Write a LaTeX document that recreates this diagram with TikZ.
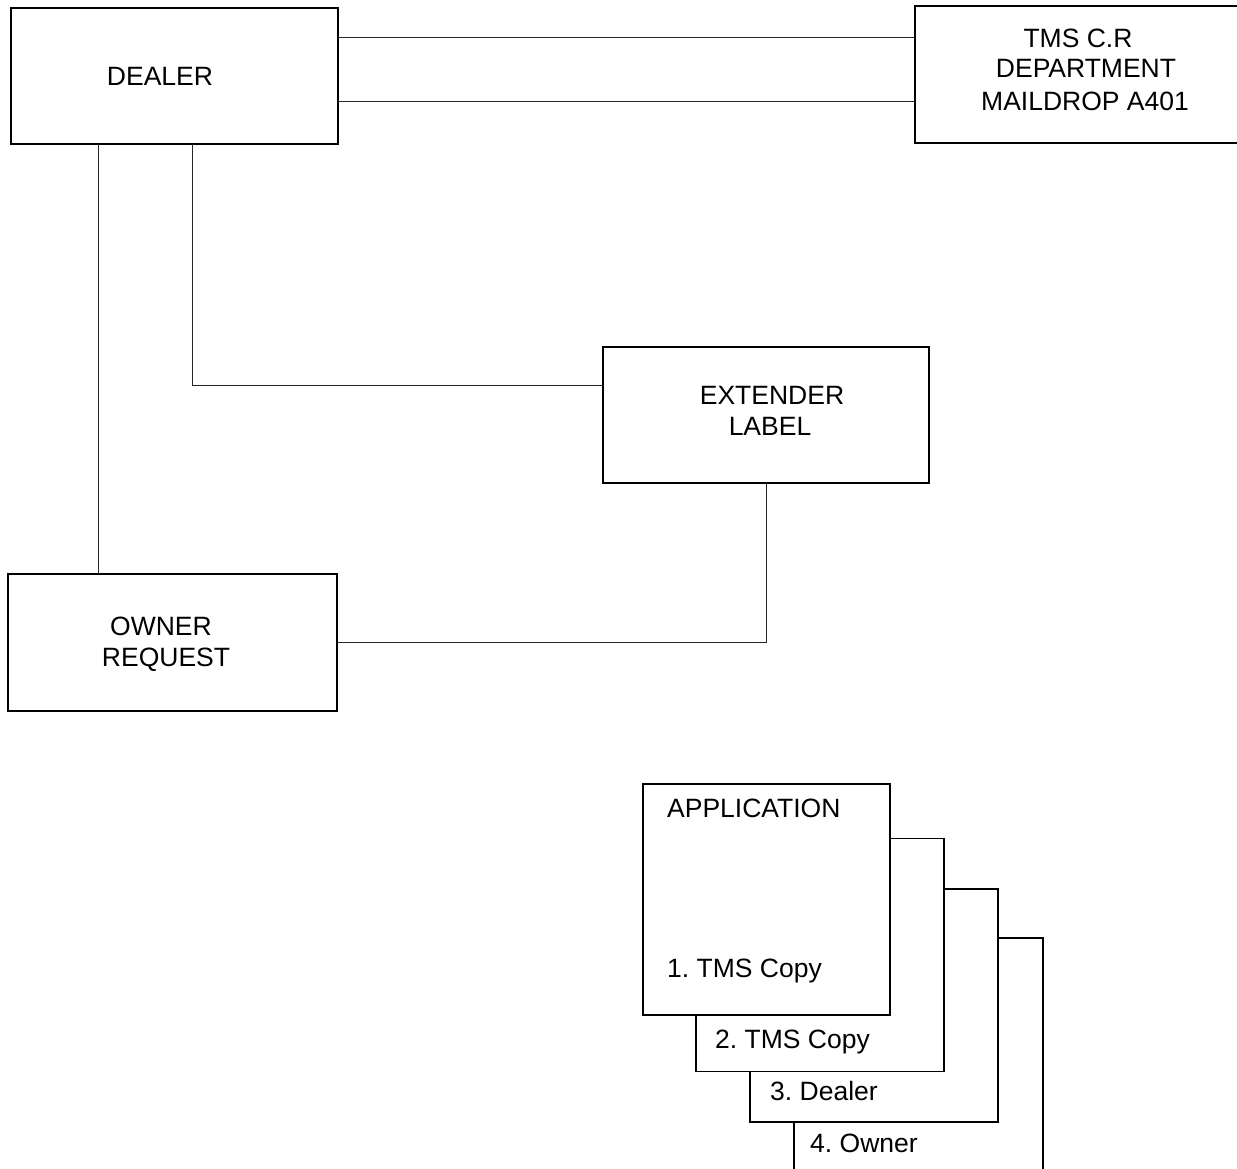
\documentclass[tikz,border=0pt]{standalone}
\usepackage{fontspec}
\setmainfont{Liberation Sans}
\frenchspacing
\begin{document}
\begin{tikzpicture}[x=1pt,y=-1pt,
  box/.style={draw=black, line width=1.2pt, fill=white, inner sep=0pt, outer sep=0pt},
  conn/.style={draw=black!85, line width=0.9pt},
  lbl/.style={inner sep=0pt, font=\fontsize{26.5}{32}\selectfont},
  every node/.style={inner sep=0pt}]
\useasboundingbox (0,0) rectangle (1237,1168);
% main boxes
\node[box, minimum width=327pt, minimum height=136pt] (dealer) at (174.5,76) {};
\node[box, minimum width=340pt, minimum height=137pt] (tms) at (1085,74.5) {};
\node[box, minimum width=326pt, minimum height=136pt] (ext) at (766,415) {};
\node[box, minimum width=329pt, minimum height=137pt] (owner) at (172.5,642.5) {};
% texts
\node[lbl, anchor=base] (tdealer) at (160,85) {DEALER};
\node[lbl, anchor=base] (ttms1) at (1078,47) {TMS C.R};
\node[lbl, anchor=base] (ttms2) at (1086,77) {DEPARTMENT};
\node[lbl, anchor=base] (ttms3) at (1085,110) {MAILDROP A401};
\node[lbl, anchor=base] (text1) at (772,404) {EXTENDER};
\node[lbl, anchor=base] (text2) at (770,435) {LABEL};
\node[lbl, anchor=base] (town1) at (161,635) {OWNER};
\node[lbl, anchor=base] (town2) at (166,666) {REQUEST};
% helper coordinates
\coordinate (r37) at (0,37);
\coordinate (r101) at (0,101);
\coordinate (c98) at (98,0);
\coordinate (c192) at (192,0);
\coordinate (r385) at (0,385);
% connectors
\draw[conn] (dealer.east |- r37) -- (tms.west |- r37);
\draw[conn] (dealer.east |- r101) -- (tms.west |- r101);
\draw[conn] (dealer.south -| c98) -- (owner.north -| c98);
\draw[conn] (dealer.south -| c192) |- (ext.west |- r385);
\draw[conn] (ext.south) |- (owner.east);
% application stack (back to front)
\node[box, minimum width=249pt, minimum height=260pt] (sheet4) at (918.5,1068) {};
\node[box, minimum width=248pt, minimum height=233pt] (sheet3) at (874,1005.5) {};
\node[box, minimum width=248pt, minimum height=233pt] (sheet2) at (820,955) {};
\node[box, minimum width=247pt, minimum height=231pt] (sheet1) at (766.5,899.5) {};
\node[lbl, anchor=base west] (tapp) at (667,817) {APPLICATION};
\node[lbl, anchor=base west] (ts1) at (667,977) {1. TMS Copy};
\node[lbl, anchor=base west] (ts2) at (715,1048) {2. TMS Copy};
\node[lbl, anchor=base west] (ts3) at (770,1100) {3. Dealer};
\node[lbl, anchor=base west] (ts4) at (810,1152) {4. Owner};
\end{tikzpicture}
\end{document}
